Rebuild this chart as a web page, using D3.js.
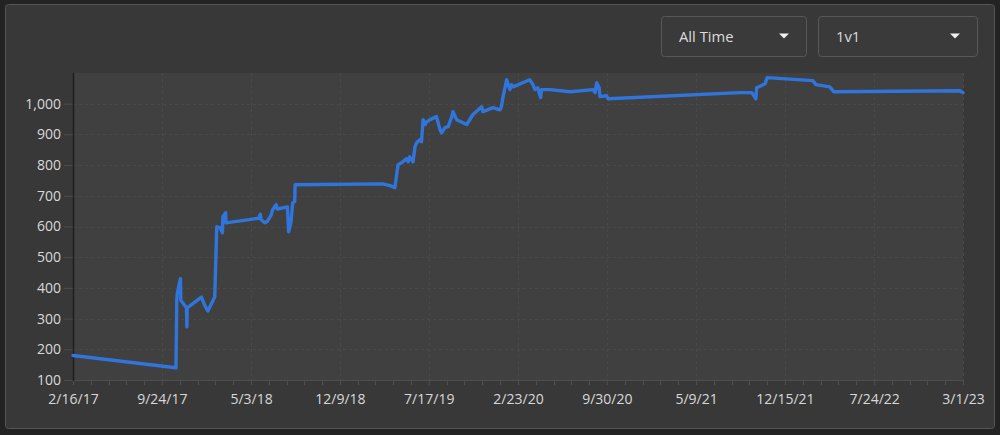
<!DOCTYPE html>
<html>
<head>
<meta charset="utf-8">
<script src="https://cdn.jsdelivr.net/npm/d3@7"></script>
<style>
  html, body { margin: 0; padding: 0; background: #232323; }
  svg { display: block; font-family: "Open Sans", "Noto Sans", sans-serif; }
</style>
</head>
<body>
<svg id="chart" width="1000" height="435"></svg>
<script>
// ---- data ----
const dates = [
  "2017-02-16","2017-10-29","2017-10-31","2017-11-01","2017-11-09","2017-11-10","2017-11-24","2017-11-25","2017-11-26",
  "2017-12-31","2018-01-09","2018-01-16","2018-02-02","2018-02-07","2018-02-15","2018-02-21","2018-02-22","2018-03-01","2018-03-02",
  "2018-05-22","2018-05-26","2018-05-28","2018-06-06","2018-06-13","2018-06-22","2018-06-25","2018-07-04","2018-07-07",
  "2018-08-01","2018-08-04","2018-08-10","2018-08-14","2018-08-19","2018-08-20",
  "2019-03-25","2019-04-12","2019-04-24","2019-05-02","2019-05-11","2019-05-14","2019-05-23","2019-05-27","2019-05-31",
  "2019-06-08","2019-06-13","2019-06-17","2019-06-25","2019-06-29","2019-07-03","2019-07-08","2019-07-12","2019-07-20",
  "2019-08-05","2019-08-14","2019-08-18","2019-08-26","2019-09-03","2019-09-12","2019-09-15","2019-09-24","2019-10-19",
  "2019-11-03","2019-11-25","2019-11-28","2019-12-23","2020-01-09","2020-01-13","2020-01-17","2020-01-26","2020-02-03",
  "2020-02-07","2020-02-11","2020-03-23","2020-03-31","2020-04-05","2020-04-12","2020-04-19","2020-04-21","2020-05-12",
  "2020-07-01","2020-08-27","2020-09-01","2020-09-05","2020-09-11","2020-09-13","2020-09-29","2020-10-03",
  "2021-08-26","2021-09-24","2021-10-04","2021-10-06","2021-10-27","2021-11-01",
  "2022-02-22","2022-03-02","2022-04-05","2022-04-15","2023-02-21","2023-03-01"
];
const ratings = [
  180,140,360,380,430,360,335,273,335,
  370,341,325,370,599,596,580,632,645,612,
  627,640,622,612,618,638,654,671,657,
  664,583,615,677,681,736,
  739,733,726,801,808,811,821,811,827,
  811,860,873,883,876,948,932,941,948,
  958,915,905,922,925,958,974,948,932,
  964,990,974,987,980,990,1023,1078,1046,
  1062,1055,1078,1062,1046,1052,1020,1046,1046,
  1039,1046,1036,1068,1052,1023,1026,1016,
  1036,1036,1016,1052,1065,1085,
  1075,1062,1055,1039,1042,1036
];
const xTickLabels = ["2/16/17","9/24/17","5/3/18","12/9/18","7/17/19","2/23/20","9/30/20","5/9/21","12/15/21","7/24/22","3/1/23"];
const yTicks = [100,200,300,400,500,600,700,800,900,1000];
const dropdownLabels = ["All Time","1v1"];

// ---- layout ----
const svg = d3.select("#chart");
const W = 1000, H = 435;
const plot = {left: 73, right: 963, top: 73, bottom: 380};

const parseISO = d3.timeParse("%Y-%m-%d");
const parseTick = d3.timeParse("%m/%d/%y");
const fmtTick = d3.timeFormat("%-m/%-d/%y");
const data = dates.map((d, i) => ({date: parseISO(d), value: ratings[i]}));
const tickDates = xTickLabels.map(parseTick);

// outer background & panel
svg.append("rect").attr("width", W).attr("height", H).attr("fill", "#232323");
svg.append("rect").attr("x", 5.5).attr("y", 4.5).attr("width", 989).attr("height", 424)
  .attr("rx", 3).attr("fill", "#383838").attr("stroke", "#545454").attr("stroke-width", 1);

// dropdowns
const dd = [{x: 661, w: 145}, {x: 818, w: 159}];
dd.forEach((b, i) => {
  const g = svg.append("g");
  g.append("rect").attr("x", b.x + 0.5).attr("y", 16.5).attr("width", b.w).attr("height", 40)
    .attr("rx", 3).attr("fill", "#3a3a3a").attr("stroke", "#585858");
  g.append("text").attr("x", b.x + 18).attr("y", 41.5).attr("fill", "#dcdcdc")
    .attr("font-size", 14.8).text(dropdownLabels[i]);
  const cx = b.x + b.w - 22, cy = 36;
  g.append("path").attr("d", `M${cx - 5},${cy - 2.5}L${cx + 5},${cy - 2.5}L${cx},${cy + 2.5}Z`).attr("fill", "#f0f0f0");
});

// plot background
svg.append("rect").attr("x", plot.left).attr("y", plot.top)
  .attr("width", plot.right - plot.left).attr("height", plot.bottom - plot.top).attr("fill", "#404040");

const x = d3.scaleTime().domain([tickDates[0], tickDates[tickDates.length - 1]]).range([plot.left, plot.right]);
const y = d3.scaleLinear().domain([100, 1100]).range([plot.bottom, plot.top]);

// gridlines
const grid = svg.append("g").attr("stroke", "#494949").attr("stroke-dasharray", "3,3").attr("stroke-width", 1);
yTicks.forEach(t => {
  grid.append("line").attr("x1", plot.left).attr("x2", plot.right)
    .attr("y1", Math.round(y(t)) + 0.5).attr("y2", Math.round(y(t)) + 0.5);
});
tickDates.slice(1).forEach(t => {
  grid.append("line").attr("y1", plot.top).attr("y2", plot.bottom)
    .attr("x1", Math.round(x(t)) + 0.5).attr("x2", Math.round(x(t)) + 0.5);
});

// x axis
const xAxis = svg.append("g").attr("transform", `translate(0,${plot.bottom})`)
  .call(d3.axisBottom(x).tickValues(tickDates).tickFormat(fmtTick).tickSize(5).tickPadding(9));
xAxis.select(".domain").attr("stroke", "#4e4e4e");
xAxis.selectAll(".tick line").attr("stroke", "#4e4e4e");
xAxis.selectAll("text").attr("fill", "#d8d8d8").attr("font-size", 14).attr("font-family", "'Open Sans', sans-serif");
// minor ticks (5 subdivisions)
const minor = svg.append("g").attr("stroke", "#4e4e4e");
for (let i = 0; i < tickDates.length - 1; i++) {
  const a = x(tickDates[i]), b = x(tickDates[i + 1]);
  for (let k = 1; k < 5; k++) {
    const px = Math.round(a + (b - a) * k / 5) + 0.5;
    minor.append("line").attr("x1", px).attr("x2", px).attr("y1", plot.bottom).attr("y2", plot.bottom + 5);
  }
}

// y axis
const yAxis = svg.append("g").attr("transform", `translate(${plot.left},0)`)
  .call(d3.axisLeft(y).tickValues(yTicks).tickFormat(d3.format(",")).tickSize(9).tickPadding(3));
yAxis.select(".domain").remove();
yAxis.selectAll(".tick line").attr("stroke", "#4e4e4e");
yAxis.selectAll("text").attr("fill", "#d8d8d8").attr("font-size", 14).attr("font-family", "'Open Sans', sans-serif");
svg.append("line").attr("x1", plot.left + 0.5).attr("x2", plot.left + 0.5)
  .attr("y1", plot.top).attr("y2", plot.bottom + 1).attr("stroke", "#1e1e1e").attr("stroke-width", 1.5);

// line
const line = d3.line().x(d => x(d.date)).y(d => y(d.value));
svg.append("path").datum(data).attr("d", line).attr("fill", "none")
  .attr("stroke", "#2f75dc").attr("stroke-width", 3.4).attr("stroke-linejoin", "round").attr("stroke-linecap", "round");
</script>
</body>
</html>
